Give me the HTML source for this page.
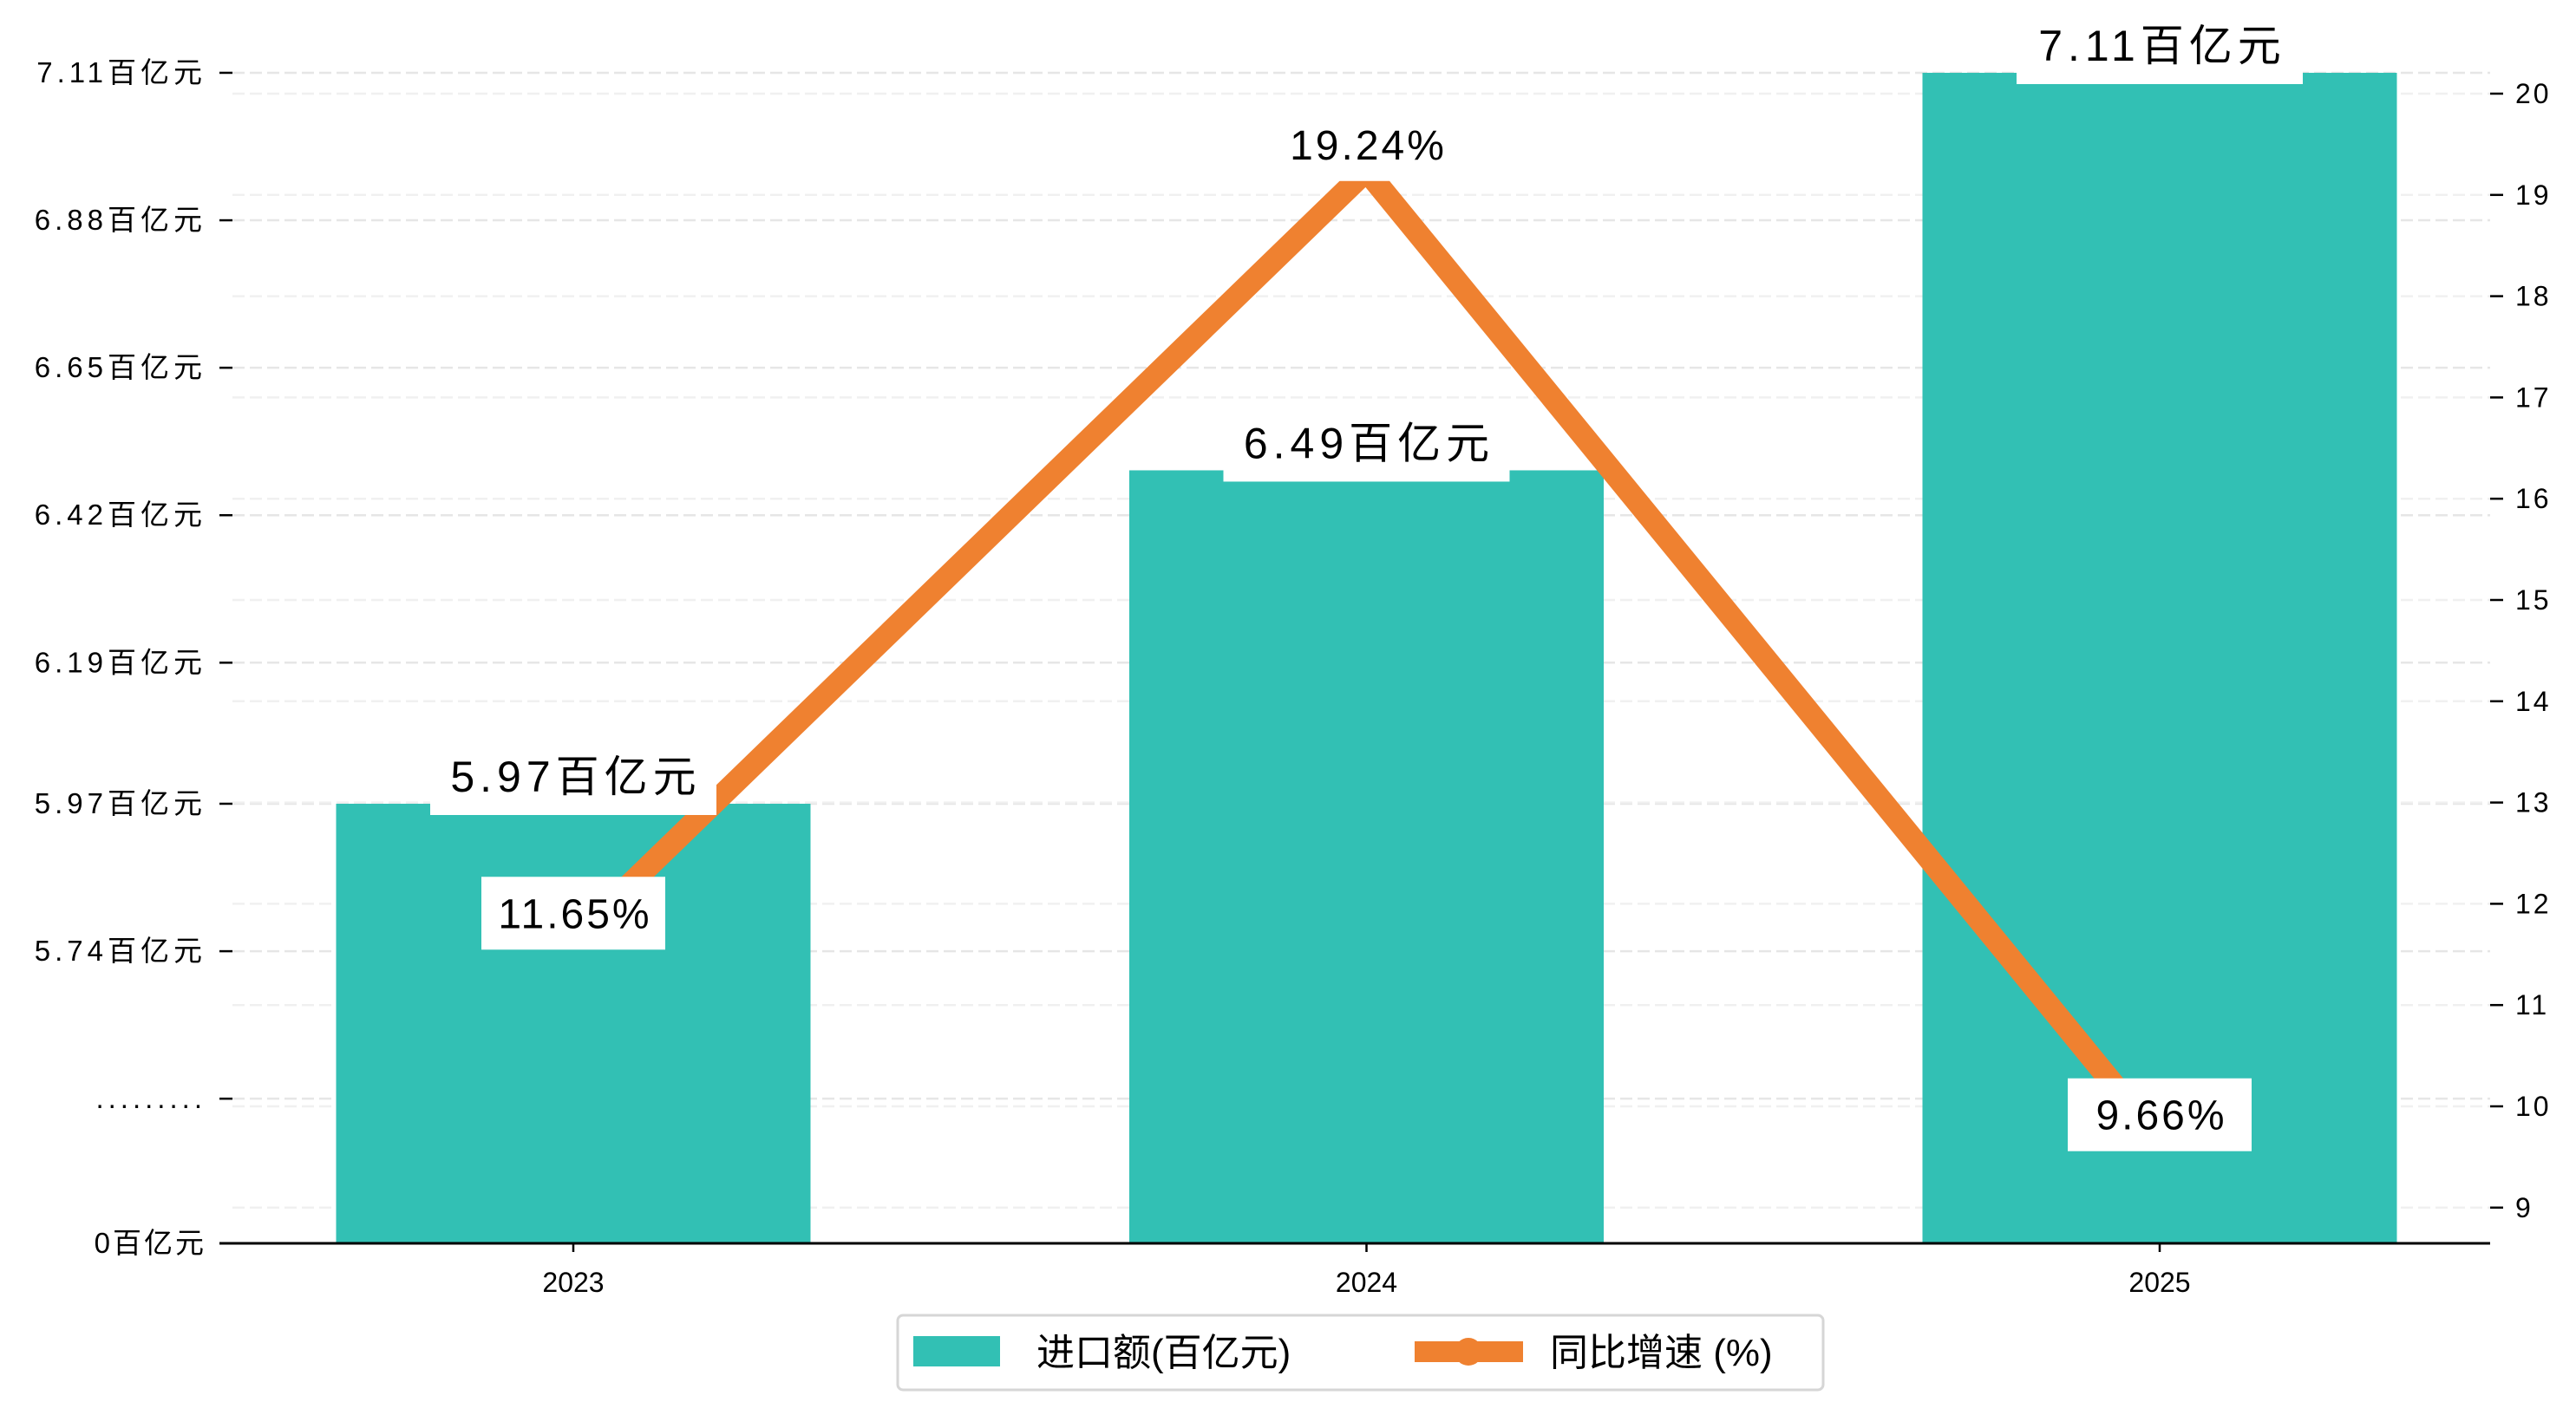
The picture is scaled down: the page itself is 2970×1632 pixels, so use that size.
<!DOCTYPE html>
<html><head><meta charset="utf-8">
<style>
html,body{margin:0;padding:0;background:#fff;}
svg{display:block;font-family:"Liberation Sans","Noto Sans CJK SC",sans-serif;}
</style></head>
<body>
<svg id="chart" width="2970" height="1632" viewBox="0 0 2970 1632"></svg>
<script>
const categories = ["2023","2024","2025"];
const importValues = [5.97, 6.49, 7.11];
const growthValues = [11.65, 19.24, 9.66];
const leftTickValues = [7.11, 6.88, 6.65, 6.42, 6.19, 5.97, 5.74, 5.51];
const leftTickLabels = ["7.11百亿元","6.88百亿元","6.65百亿元","6.42百亿元","6.19百亿元","5.97百亿元","5.74百亿元","........."];
const rightTickValues = [20,19,18,17,16,15,14,13,12,11,10,9];

const NS = "http://www.w3.org/2000/svg";
const svg = document.getElementById("chart");
function mk(tag, attrs, parent){
  const e = document.createElementNS(NS, tag);
  for (const k in attrs) e.setAttribute(k, attrs[k]);
  (parent||svg).appendChild(e);
  return e;
}
const baseY = 1434, plotL = 253, plotR = 2871;
function yL(v){ return 927 - (v - 5.97) * 739.5; }
function yR(v){ return 108 + (20 - v) * 116.8; }
function xC(i){ return 661 + i * 914.5; }
const barW = 547;

// grid lines
const grid = mk("g", {});


leftTickValues.forEach(v=>{
  mk("line",{x1:268,x2:plotR,y1:yL(v),y2:yL(v),stroke:"#e6e6e6","stroke-width":2.5,"stroke-dasharray":"14,6"},grid);
});
rightTickValues.forEach(v=>{
  mk("line",{x1:268,x2:plotR,y1:yR(v),y2:yR(v),stroke:"#f0f0f0","stroke-width":2.5,"stroke-dasharray":"14,6"},grid);
});

// bars
categories.forEach((c,i)=>{
  const top = yL(importValues[i]);
  const r = mk("rect",{x:xC(i)-barW/2,y:top,width:barW,height:baseY-top,fill:"#32c0b4"});
  
  
});

// line
const pts = categories.map((c,i)=>xC(i)+","+yR(growthValues[i])).join(" ");
const pl = mk("polyline",{points:pts,fill:"none",stroke:"#ef8130","stroke-width":26,"stroke-linejoin":"miter"});



// bar labels
categories.forEach((c,i)=>{
  const top = yL(importValues[i]);
  const g = mk("g",{});
  
  
  mk("rect",{x:xC(i)-165,y:top-73,width:330,height:86,fill:"#fff"},g);
  const t = mk("text",{x:xC(i)+3,y:top-14,"text-anchor":"middle","font-size":50,"letter-spacing":6,fill:"#000"},g);
  t.textContent = importValues[i].toFixed(2)+"百亿元";
});
// line labels
categories.forEach((c,i)=>{
  const y = yR(growthValues[i]) - 30;
  const g = mk("g",{});
  
  
  mk("rect",{x:xC(i)-106,y:y-42,width:212,height:84,fill:"#fff"},g);
  const t = mk("text",{x:xC(i)+2,y:y+17,"text-anchor":"middle","font-size":48,"letter-spacing":3,fill:"#000"},g);
  t.textContent = growthValues[i].toFixed(2)+"%";
});

// axes
const ax = mk("line",{x1:plotL,x2:plotR,y1:baseY,y2:baseY,stroke:"#000","stroke-width":3});


categories.forEach((c,i)=>{
  mk("line",{x1:xC(i),x2:xC(i),y1:baseY,y2:baseY+10,stroke:"#000","stroke-width":2.5});
  const t = mk("text",{x:xC(i),y:1490,"text-anchor":"middle","font-size":32,fill:"#000"});
  
  
  t.textContent = c;
});
leftTickValues.forEach((v,i)=>{
  const y = yL(v);
  mk("line",{x1:253,x2:268,y1:y,y2:y,stroke:"#000","stroke-width":2.5});
  const t = mk("text",{x:238,y:y+11,"text-anchor":"end","font-size":33,"letter-spacing":5,fill:"#000"});
  
  
  t.textContent = leftTickLabels[i];
});
{
  const t = mk("text",{x:238,y:baseY+11,"text-anchor":"end","font-size":33,"letter-spacing":3,fill:"#000"});
  
  
  t.textContent = "0百亿元";
}
rightTickValues.forEach(v=>{
  const y = yR(v);
  mk("line",{x1:2871,x2:2886,y1:y,y2:y,stroke:"#000","stroke-width":2.5});
  const t = mk("text",{x:2900,y:y+11,"font-size":32,"letter-spacing":3,fill:"#000"});
  
  
  t.textContent = v;
});

// legend
const lg = mk("g",{});


mk("rect",{x:1035,y:1517,width:1067,height:86,rx:6,fill:"#fff",stroke:"#d6d6d6","stroke-width":3},lg);
const e1 = mk("g",{},lg);


mk("rect",{x:1053,y:1541,width:100,height:35,fill:"#32c0b4"},e1);
const t1 = mk("text",{x:1195,y:1575,"font-size":44,fill:"#000"},e1);
t1.textContent = "进口额(百亿元)";
const e2 = mk("g",{},lg);


mk("rect",{x:1631,y:1547,width:125,height:24,fill:"#ef8130"},e2);
mk("circle",{cx:1693,cy:1559,r:16,fill:"#ef8130"},e2);
const t2 = mk("text",{x:1787,y:1575,"font-size":44,fill:"#000"},e2);
t2.textContent = "同比增速 (%)";
</script>
</body></html>
